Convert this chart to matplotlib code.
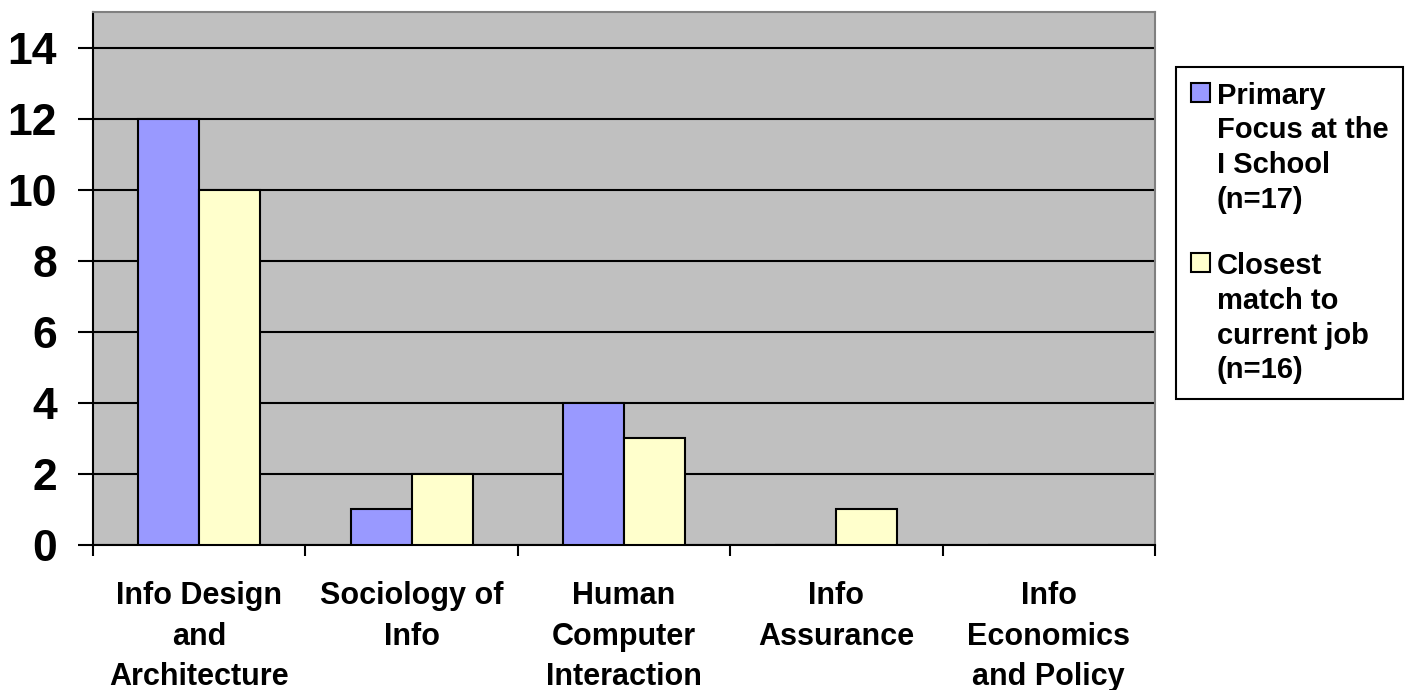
import numpy as np
import matplotlib.pyplot as plt
from matplotlib.patches import Rectangle
from matplotlib.legend_handler import HandlerBase

plt.rcParams['font.family'] = ['Liberation Sans', 'DejaVu Sans']
plt.rcParams['font.weight'] = 'bold'

categories = ["Info Design\nand\nArchitecture", "Sociology of\nInfo",
              "Human\nComputer\nInteraction", "Info\nAssurance",
              "Info\nEconomics\nand Policy"]
primary = [12, 1, 4, 0, 0]
closest = [10, 2, 3, 1, 0]
series_labels = ["Primary\nFocus at the\nI School\n(n=17)",
                 "Closest\nmatch to\ncurrent job\n(n=16)"]
colors = ["#9999FF", "#FFFFCC"]


class TopSquare(HandlerBase):
    # square sits next to the first line of a multi-line label
    def __init__(self, top, size=0.65, **kw):
        super().__init__(**kw)
        self.top = top
        self.size = size

    def create_artists(self, legend, orig_handle, xdescent, ydescent,
                       width, height, fontsize, trans):
        s = self.size * fontsize
        y_top = self.top * fontsize
        r = Rectangle((-xdescent, y_top - s), s, s,
                      facecolor=orig_handle.get_facecolor(),
                      edgecolor='black', linewidth=1.5, transform=trans)
        return [r]


fig = plt.figure(figsize=(14.07, 6.9), dpi=100)
ax = fig.add_axes([93 / 1407, 145 / 690, (1155 - 93) / 1407, (545 - 12) / 690])
ax.set_facecolor("#C0C0C0")

x = np.arange(len(categories))
w = 0.287
b1 = ax.bar(x - w / 2, primary, w, color=colors[0], edgecolor='black',
            linewidth=1.5, label=series_labels[0], zorder=3)
b2 = ax.bar(x + w / 2, closest, w, color=colors[1], edgecolor='black',
            linewidth=1.5, label=series_labels[1], zorder=3)

ax.set_xlim(-0.5, len(categories) - 0.5)
ax.set_ylim(0, 15)
ax.set_yticks(np.arange(0, 15, 2))
ax.yaxis.grid(True, color='black', linewidth=1.5)
ax.set_axisbelow(True)

ax.set_xticks(np.arange(-0.5, len(categories), 1.0))
ax.set_xticklabels([])
ax.set_xticks(x, minor=True)
ax.set_xticklabels(categories, minor=True, fontsize=22, fontweight='bold',
                   linespacing=1.46)
ax.tick_params(axis='x', which='major', direction='out', length=8, width=1.5)
ax.tick_params(axis='x', which='minor', length=0, pad=26)
ax.tick_params(axis='y', direction='out', length=11, width=1.5, pad=15,
               labelsize=32)
for t in ax.get_yticklabels():
    t.set_fontweight('bold')

for s in ['left', 'bottom']:
    ax.spines[s].set_color('black')
    ax.spines[s].set_linewidth(1.5)
for s in ['top', 'right']:
    ax.spines[s].set_color('#808080')
    ax.spines[s].set_linewidth(1.5)

leg = ax.legend(handles=[b1.patches[0], b2.patches[0]], labels=series_labels,
                loc='upper left', bbox_to_anchor=(1176 / 1407, 1 - 67 / 690),
                bbox_transform=fig.transFigure, fontsize=21, frameon=True,
                fancybox=False, edgecolor='black', framealpha=1,
                handlelength=0.65, handleheight=0.8, handletextpad=0.25,
                labelspacing=1.3, borderpad=0.5, borderaxespad=0,
                handler_map={b1.patches[0]: TopSquare(2.6),
                             b2.patches[0]: TopSquare(2.6)})
leg.get_frame().set_linewidth(1.5)
for t in leg.get_texts():
    t.set_fontweight('bold')
    t.set_linespacing(1.31)

fig.savefig("out.png", dpi=100)
